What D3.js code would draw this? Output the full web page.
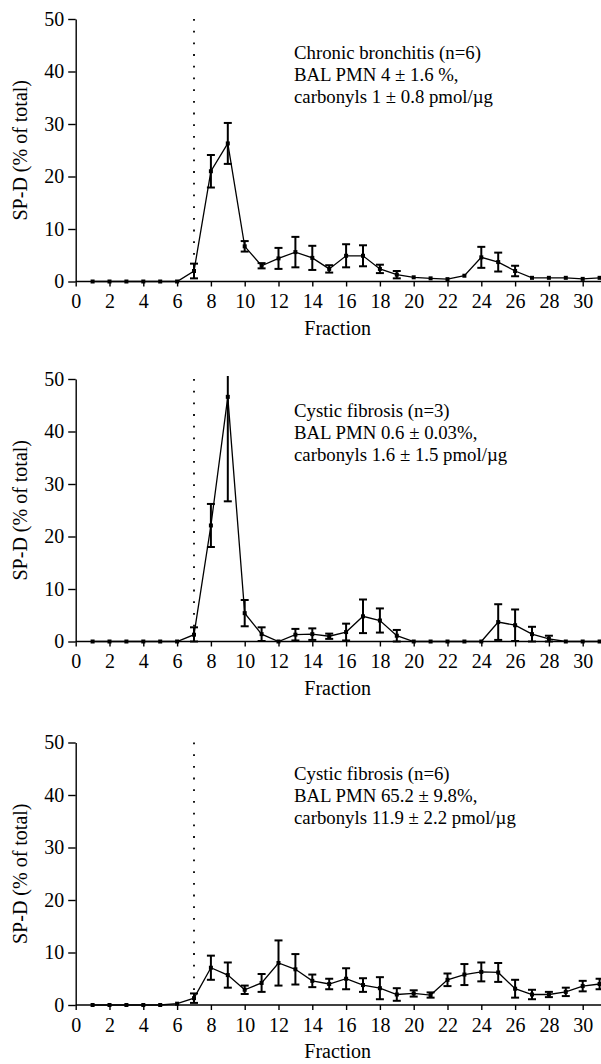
<!DOCTYPE html>
<html>
<head>
<meta charset="utf-8">
<script src="https://cdn.jsdelivr.net/npm/d3@7"></script>
<style>
  body { margin: 0; background: #fff; }
  svg text { font-family: 'Liberation Serif', 'Times New Roman', Times, 'DejaVu Serif', serif !important; fill: #000; }
</style>
</head>
<body>
<script>
// fractions 1..31
const fractions = d3.range(1, 32);
const xTicks = d3.range(0, 31, 2);
const yTicks = [0, 10, 20, 30, 40, 50];

// panel 1: chronic bronchitis
const cbMean = [0, 0, 0, 0, 0, 0, 2.0, 21, 26.3, 6.7, 3.0, 4.4, 5.6, 4.5, 2.4, 4.9, 4.9, 2.4, 1.3, 0.8, 0.6, 0.45, 1.1, 4.6, 3.7, 2.0, 0.7, 0.7, 0.7, 0.5, 0.7];
const cbErr  = [0, 0, 0, 0, 0, 0, 1.4, 3.1, 3.9, 1.0, 0.5, 2.0, 2.9, 2.3, 0.7, 2.2, 2.0, 0.8, 0.7, 0, 0, 0, 0, 2.0, 1.8, 1.0, 0, 0, 0, 0, 0];
const cbLines = ["Chronic bronchitis (n=6)", "BAL PMN 4 ± 1.6 %,", "carbonyls 1 ± 0.8 pmol/µg"];

// panel 2: cystic fibrosis, n=3
const cf3Mean = [0, 0, 0, 0, 0, 0, 1.3, 22.1, 46.6, 5.4, 1.4, 0, 1.3, 1.4, 1.0, 1.8, 4.8, 4.0, 1.1, 0, 0, 0, 0, 0, 3.7, 3.1, 1.4, 0.5, 0, 0, 0];
const cf3Err  = [0, 0, 0, 0, 0, 0, 1.4, 4.1, 19.9, 2.5, 1.3, 0, 1.1, 1.1, 0.5, 1.6, 3.2, 2.3, 1.1, 0, 0, 0, 0, 0, 3.4, 3.0, 1.4, 0.6, 0, 0, 0];
const cf3Lines = ["Cystic fibrosis (n=3)", "BAL PMN 0.6 ± 0.03%,", "carbonyls 1.6 ± 1.5 pmol/µg"];

// panel 3: cystic fibrosis, n=6
const cf6Mean = [0, 0, 0, 0, 0, 0.25, 1.3, 7.1, 5.7, 2.9, 4.2, 8.0, 6.8, 4.6, 4.0, 5.0, 3.8, 3.2, 2.0, 2.2, 1.9, 4.8, 5.8, 6.3, 6.2, 3.1, 2.0, 2.0, 2.5, 3.6, 4.0];
const cf6Err  = [0, 0, 0, 0, 0, 0, 0.9, 2.3, 2.4, 0.8, 1.7, 4.3, 2.9, 1.2, 1.0, 2.0, 1.3, 2.1, 1.2, 0.6, 0.5, 1.2, 2.0, 1.8, 1.8, 1.7, 0.9, 0.5, 0.8, 1.0, 1.0];
const cf6Lines = ["Cystic fibrosis (n=6)", "BAL PMN 65.2 ± 9.8%,", "carbonyls 11.9 ± 2.2 pmol/µg"];

const markerFraction = 7;

const w = 601;
const h = 1064;
const left = 75.7;
const right = 599.6;
const plotH = 262.5;
const serif = "'Liberation Serif', 'Times New Roman', Times, 'DejaVu Serif', serif";
const axisFont = 20;

const panels = [
  { top: 19, mean: cbMean, err: cbErr, lines: cbLines, textY: 59 },
  { top: 379, mean: cf3Mean, err: cf3Err, lines: cf3Lines, textY: 417 },
  { top: 742.5, mean: cf6Mean, err: cf6Err, lines: cf6Lines, textY: 780 }
];

const svg = d3.select('body').append('svg').attr('width', w).attr('height', h)
  .style('font-family', serif);

const x = d3.scaleLinear().domain([0, 31]).range([left, right]);

panels.forEach((p) => {
  const y = d3.scaleLinear().domain([0, 50]).range([p.top + plotH, p.top]);
  const g = svg.append('g');
  const data = fractions.map((f, i) => ({ f: f, v: p.mean[i], e: p.err[i] }));

  // dotted marker line
  g.append('line')
    .attr('x1', x(markerFraction)).attr('x2', x(markerFraction))
    .attr('y1', y(50)).attr('y2', y(0))
    .attr('stroke', '#000').attr('stroke-width', 1.8)
    .attr('stroke-dasharray', '1.8,9.9');

  // x axis
  const xa = g.append('g')
    .attr('transform', 'translate(0,' + y(0) + ')')
    .call(d3.axisBottom(x).tickValues(xTicks).tickSize(5).tickSizeOuter(0).tickPadding(7.5));
  xa.attr('font-family', serif).attr('font-size', axisFont);
  xa.select('.domain').attr('d', 'M' + left + ',0H' + w).attr('stroke-width', 1.4);
  xa.selectAll('.tick line').attr('stroke-width', 1.4);

  // y axis
  const ya = g.append('g')
    .attr('transform', 'translate(' + left + ',0)')
    .call(d3.axisLeft(y).tickValues(yTicks).tickSize(7.5).tickSizeOuter(0).tickPadding(4));
  ya.attr('font-family', serif).attr('font-size', axisFont);
  ya.selectAll('.domain, .tick line').attr('stroke-width', 1.4);

  // axis titles
  g.append('text')
    .attr('x', (left + right) / 2).attr('y', y(0) + 53)
    .attr('text-anchor', 'middle').attr('font-size', axisFont)
    .text('Fraction');
  g.append('text')
    .attr('transform', 'translate(27,' + y(25) + ') rotate(-90)')
    .attr('text-anchor', 'middle').attr('font-size', axisFont)
    .text('SP-D (% of total)');

  // connecting line
  g.append('path')
    .datum(data)
    .attr('fill', 'none').attr('stroke', '#000').attr('stroke-width', 1.3)
    .attr('d', d3.line().x((d) => x(d.f)).y((d) => y(d.v)));

  // error bars
  const eb = data.filter((d) => d.e > 0);
  const top = (d) => Math.max(y(d.v + d.e), p.top - 3);
  const bot = (d) => y(Math.max(d.v - d.e, 0));
  g.selectAll('.eb').data(eb).enter().append('line')
    .attr('x1', (d) => x(d.f)).attr('x2', (d) => x(d.f))
    .attr('y1', top).attr('y2', bot)
    .attr('stroke', '#000').attr('stroke-width', 2);
  g.selectAll('.capT').data(eb.filter((d) => d.v + d.e <= 50)).enter().append('line')
    .attr('x1', (d) => x(d.f) - 4).attr('x2', (d) => x(d.f) + 4)
    .attr('y1', (d) => y(d.v + d.e)).attr('y2', (d) => y(d.v + d.e))
    .attr('stroke', '#000').attr('stroke-width', 2);
  g.selectAll('.capB').data(eb).enter().append('line')
    .attr('x1', (d) => x(d.f) - 4).attr('x2', (d) => x(d.f) + 4)
    .attr('y1', bot).attr('y2', bot)
    .attr('stroke', '#000').attr('stroke-width', 2);

  // markers
  g.selectAll('.pt').data(data).enter().append('rect')
    .attr('x', (d) => x(d.f) - 2).attr('y', (d) => y(d.v) - 2)
    .attr('width', 4).attr('height', 4).attr('fill', '#000');

  // annotation
  g.append('g').selectAll('text').data(p.lines).enter().append('text')
    .attr('x', 294).attr('y', (d, i) => p.textY + i * 22)
    .attr('font-size', 18.8)
    .text((d) => d);
});
</script>
</body>
</html>
